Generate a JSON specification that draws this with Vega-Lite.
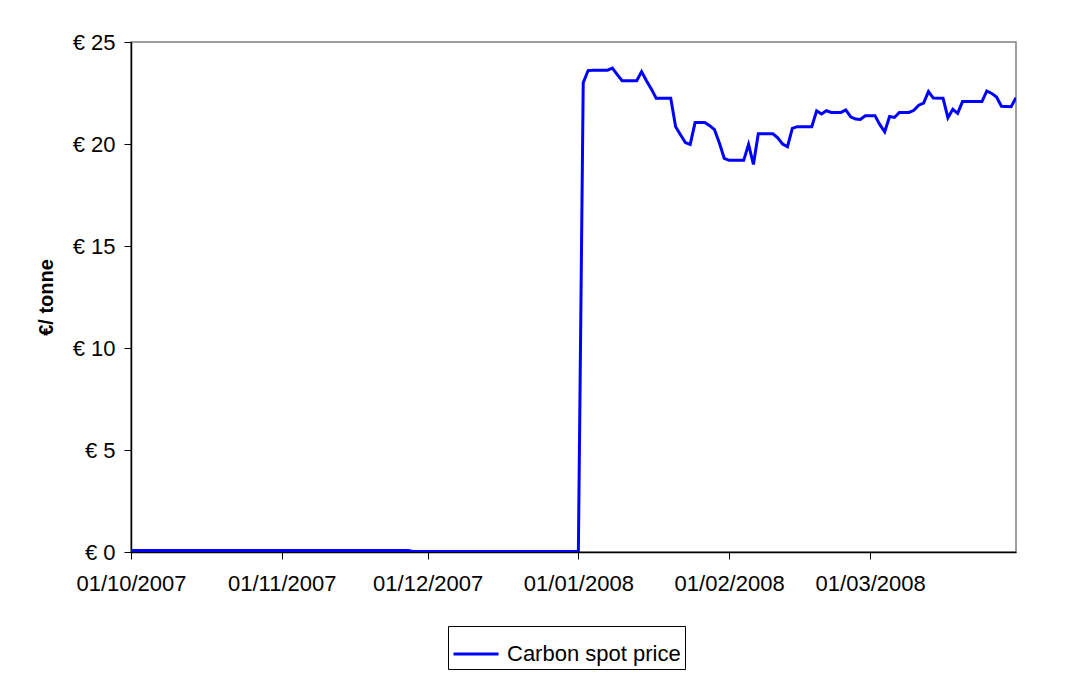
{
  "$schema": "https://vega.github.io/schema/vega-lite/v6.json",
  "autosize": {"type": "none"},
  "padding": {"left": 131, "top": 42, "right": 69, "bottom": 123},
  "width": 885,
  "height": 510,
  "background": "white",
  "config": {
    "font": "Liberation Sans",
    "view": {"stroke": "#808080", "strokeWidth": 1.5},
    "axis": {"grid": false, "domainColor": "black", "tickColor": "black", "labelColor": "black", "titleColor": "black", "labelFont": "Liberation Sans", "titleFont": "Liberation Sans"}
  },
  "data": {
    "values": [
      {"date": "2007-10-01", "price": 0.07},
      {"date": "2007-10-15", "price": 0.07},
      {"date": "2007-11-01", "price": 0.07},
      {"date": "2007-11-15", "price": 0.07},
      {"date": "2007-11-27", "price": 0.07},
      {"date": "2007-11-28", "price": 0.02},
      {"date": "2007-12-14", "price": 0.02},
      {"date": "2008-01-01", "price": 0.02},
      {"date": "2008-01-02", "price": 23.0},
      {"date": "2008-01-03", "price": 23.6},
      {"date": "2008-01-04", "price": 23.62},
      {"date": "2008-01-07", "price": 23.62},
      {"date": "2008-01-08", "price": 23.72},
      {"date": "2008-01-09", "price": 23.4},
      {"date": "2008-01-10", "price": 23.1},
      {"date": "2008-01-13", "price": 23.1},
      {"date": "2008-01-14", "price": 23.55},
      {"date": "2008-01-15", "price": 23.1},
      {"date": "2008-01-16", "price": 22.7},
      {"date": "2008-01-17", "price": 22.24},
      {"date": "2008-01-20", "price": 22.24},
      {"date": "2008-01-21", "price": 20.85},
      {"date": "2008-01-22", "price": 20.45},
      {"date": "2008-01-23", "price": 20.07},
      {"date": "2008-01-24", "price": 19.98},
      {"date": "2008-01-25", "price": 21.05},
      {"date": "2008-01-27", "price": 21.05},
      {"date": "2008-01-28", "price": 20.9},
      {"date": "2008-01-29", "price": 20.7},
      {"date": "2008-01-30", "price": 20.05},
      {"date": "2008-01-31", "price": 19.3},
      {"date": "2008-02-01", "price": 19.2},
      {"date": "2008-02-04", "price": 19.2},
      {"date": "2008-02-05", "price": 19.98},
      {"date": "2008-02-06", "price": 19.0},
      {"date": "2008-02-07", "price": 20.5},
      {"date": "2008-02-10", "price": 20.5},
      {"date": "2008-02-11", "price": 20.3},
      {"date": "2008-02-12", "price": 20.0},
      {"date": "2008-02-13", "price": 19.87},
      {"date": "2008-02-14", "price": 20.77},
      {"date": "2008-02-15", "price": 20.85},
      {"date": "2008-02-18", "price": 20.85},
      {"date": "2008-02-19", "price": 21.63},
      {"date": "2008-02-20", "price": 21.47},
      {"date": "2008-02-21", "price": 21.63},
      {"date": "2008-02-22", "price": 21.55},
      {"date": "2008-02-24", "price": 21.55},
      {"date": "2008-02-25", "price": 21.67},
      {"date": "2008-02-26", "price": 21.33},
      {"date": "2008-02-27", "price": 21.22},
      {"date": "2008-02-28", "price": 21.2},
      {"date": "2008-02-29", "price": 21.38},
      {"date": "2008-03-02", "price": 21.39},
      {"date": "2008-03-03", "price": 20.95},
      {"date": "2008-03-04", "price": 20.6},
      {"date": "2008-03-05", "price": 21.35},
      {"date": "2008-03-06", "price": 21.3},
      {"date": "2008-03-07", "price": 21.55},
      {"date": "2008-03-09", "price": 21.55},
      {"date": "2008-03-10", "price": 21.65},
      {"date": "2008-03-11", "price": 21.9},
      {"date": "2008-03-12", "price": 22.0},
      {"date": "2008-03-13", "price": 22.57},
      {"date": "2008-03-14", "price": 22.25},
      {"date": "2008-03-16", "price": 22.24},
      {"date": "2008-03-17", "price": 21.29},
      {"date": "2008-03-18", "price": 21.7},
      {"date": "2008-03-19", "price": 21.5},
      {"date": "2008-03-20", "price": 22.08},
      {"date": "2008-03-24", "price": 22.08},
      {"date": "2008-03-25", "price": 22.6},
      {"date": "2008-03-26", "price": 22.48},
      {"date": "2008-03-27", "price": 22.3},
      {"date": "2008-03-28", "price": 21.85},
      {"date": "2008-03-30", "price": 21.83},
      {"date": "2008-03-31", "price": 22.27}
    ]
  },
  "mark": {"type": "line", "strokeWidth": 3, "clip": true},
  "encoding": {
    "x": {
      "field": "date",
      "type": "temporal",
      "scale": {"type": "utc", "domain": ["2007-10-01", "2008-03-31"]},
      "axis": {
        "title": null,
        "labelExpr": "utcFormat(datum.value, '%d/%m/%Y')",
        "tickCount": {"interval": "month", "step": 1},
        "labelFontSize": 22,
        "labelPadding": 14,
        "tickSize": 7,
        "labelFlush": false,
        "labelOverlap": false,
        "domainWidth": 1.5
      }
    },
    "y": {
      "field": "price",
      "type": "quantitative",
      "scale": {"domain": [0, 25], "nice": false},
      "axis": {
        "title": "€/ tonne",
        "titleFontSize": 20,
        "titleFontWeight": "bold",
        "titlePadding": 16,
        "values": [0, 5, 10, 15, 20, 25],
        "labelExpr": "'€ ' + datum.value",
        "labelFontSize": 22,
        "labelPadding": 9,
        "tickSize": 7,
        "domainWidth": 1.5
      }
    },
    "color": {
      "datum": "Carbon spot price",
      "type": "nominal",
      "scale": {"range": ["#0000FF"]},
      "legend": {
        "title": null,
        "orient": "none",
        "legendX": 317,
        "legendY": 584,
        "strokeColor": "black",
        "padding": 4,
        "symbolType": "stroke",
        "symbolSize": 2025,
        "symbolStrokeWidth": 3,
        "labelFontSize": 22,
        "labelLimit": 400,
        "labelColor": "black",
        "labelOffset": 7,
        "labelFont": "Liberation Sans"
      }
    }
  }
}
